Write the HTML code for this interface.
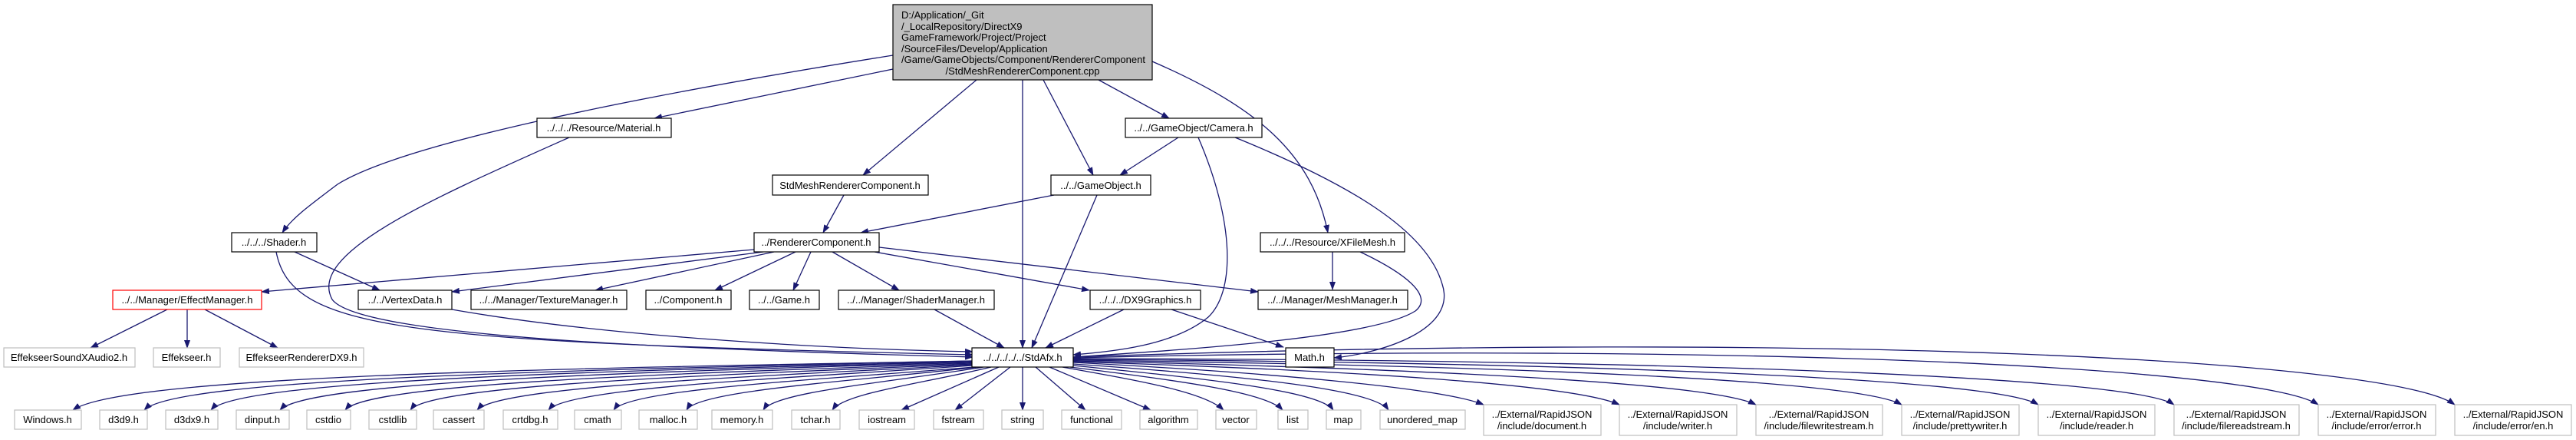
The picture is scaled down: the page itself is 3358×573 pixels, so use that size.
<!DOCTYPE html>
<html><head><meta charset="utf-8"><style>
html,body{margin:0;padding:0;background:#fff;}
svg{display:block;}
text{font-family:"Liberation Sans",Arial,sans-serif;font-size:13px;fill:#000;}
.b{fill:#fff;stroke:#000;stroke-width:1.2;}
.g{fill:#fff;stroke:#bfbfbf;stroke-width:1.2;}
.r{fill:#fff;stroke:#ff0000;stroke-width:1.2;}
.e{fill:none;stroke:#191970;stroke-width:1.3;marker-end:url(#a);}
</style></head><body>
<svg width="3358" height="573" viewBox="0 0 3358 573" xmlns="http://www.w3.org/2000/svg">
<defs><marker id="a" markerWidth="11" markerHeight="8" refX="10" refY="4" orient="auto" markerUnits="userSpaceOnUse"><path d="M0,0 L11,4 L0,8 z" fill="#191970"/></marker></defs>

<!-- edges from main -->
<path class="e" d="M1164,72 C800,130 520,190 440,240 C400,270 380,285 368,303"/>
<path class="e" d="M1164,90 L853,154"/>
<path class="e" d="M1273,104 L1125,228"/>
<path class="e" d="M1333,104 L1333,453"/>
<path class="e" d="M1360,104 L1425,228"/>
<path class="e" d="M1432,104 L1524,154"/>
<path class="e" d="M1502,80 C1640,140 1710,200 1731,303"/>
<!-- camera -->
<path class="e" d="M1536,179 L1460,228"/>
<path class="e" d="M1562,179 C1610,290 1610,380 1575,413 C1530,450 1450,458 1399,462"/>
<path class="e" d="M1610,179 C1760,240 1860,300 1880,370 C1900,430 1800,460 1739,466"/>
<!-- xfilemesh -->
<path class="e" d="M1737,328 L1737,377"/>
<path class="e" d="M1773,328 C1830,355 1870,385 1845,405 C1790,440 1550,455 1399,465"/>
<!-- gameobject -->
<path class="e" d="M1374,254 L1122,303"/>
<path class="e" d="M1430,254 L1345,453"/>
<!-- stdmesh -->
<path class="e" d="M1100,254 L1073,303"/>
<!-- shader -->
<path class="e" d="M384,328 L495,378"/>
<path class="e" d="M360,328 C380,430 520,445 1268,462"/>
<!-- material -->
<path class="e" d="M742,179 C560,260 400,330 433,390 C470,440 900,455 1268,465"/>
<!-- renderer component -->
<path class="e" d="M983,325 L341,380"/>
<path class="e" d="M995,328 L589,380"/>
<path class="e" d="M1009,328 L776,378"/>
<path class="e" d="M1037,328 L932,378"/>
<path class="e" d="M1057,328 L1034,378"/>
<path class="e" d="M1085,328 L1172,378"/>
<path class="e" d="M1140,328 L1420,378"/>
<path class="e" d="M1146,322 L1640,380"/>
<!-- row4 to stdafx -->
<path class="e" d="M1218,403 L1309,453"/>
<path class="e" d="M1465,403 L1363,453"/>
<path class="e" d="M1527,403 L1673,452"/>
<path class="e" d="M589,403 C800,440 1100,455 1268,458"/>
<!-- effect manager -->
<path class="e" d="M218,403 L118,453"/>
<path class="e" d="M244,403 L244,453"/>
<path class="e" d="M267,403 L362,453"/>

<!-- stdafx to leaves (left) -->
<path class="e" d="M1268,470 C700,480 160,490 95,534"/>
<path class="e" d="M1268,470 C750,482 230,492 188,534"/>
<path class="e" d="M1268,471 C800,483 310,494 275,534"/>
<path class="e" d="M1268,472 C850,484 400,496 365,534"/>
<path class="e" d="M1268,473 C900,486 480,498 450,534"/>
<path class="e" d="M1268,474 C950,488 560,500 535,534"/>
<path class="e" d="M1268,475 C1000,490 650,502 622,534"/>
<path class="e" d="M1268,476 C1040,492 740,504 715,534"/>
<path class="e" d="M1270,478 C1080,494 820,506 800,534"/>
<path class="e" d="M1275,478 C1120,496 910,508 895,534"/>
<path class="e" d="M1282,478 C1160,498 1010,510 995,534"/>
<path class="e" d="M1292,478 C1200,500 1100,512 1085,534"/>
<path class="e" d="M1302,478 L1175,534"/>
<path class="e" d="M1317,478 L1245,534"/>
<path class="e" d="M1333,478 L1333,534"/>
<path class="e" d="M1350,478 L1415,534"/>
<path class="e" d="M1368,478 L1500,534"/>
<!-- right -->
<path class="e" d="M1385,478 C1480,495 1570,510 1595,534"/>
<path class="e" d="M1395,478 C1530,495 1650,510 1672,534"/>
<path class="e" d="M1399,476 C1560,492 1720,508 1738,534"/>
<path class="e" d="M1399,474 C1600,488 1790,505 1810,534"/>
<path class="e" d="M1399,472 C1650,485 1880,505 1934,527"/>
<path class="e" d="M1399,471 C1750,482 2050,500 2111,527"/>
<path class="e" d="M1399,470 C1850,480 2230,498 2289,527"/>
<path class="e" d="M1399,469 C1950,476 2420,494 2479,527"/>
<path class="e" d="M1399,468 C2050,472 2600,492 2657,527"/>
<path class="e" d="M1399,467 C2150,468 2780,490 2834,527"/>
<path class="e" d="M1399,466 C2300,445 2950,480 3022,527"/>
<path class="e" d="M1399,465 C2400,430 3120,470 3200,527"/>

<!-- nodes -->
<rect x="1164" y="6" width="338" height="98" fill="#bfbfbf" stroke="#000" stroke-width="1.2"/>
<text x="1175" y="24">D:/Application/_Git</text>
<text x="1175" y="39">/_LocalRepository/DirectX9</text>
<text x="1175" y="53">GameFramework/Project/Project</text>
<text x="1175" y="68">/SourceFiles/Develop/Application</text>
<text x="1175" y="82">/Game/GameObjects/Component/RendererComponent</text>
<text x="1333" y="97" text-anchor="middle">/StdMeshRendererComponent.cpp</text>

<g text-anchor="middle">
<rect class="b" x="700" y="154" width="175" height="25"/><text x="787" y="171">../../../Resource/Material.h</text>
<rect class="b" x="1467" y="154" width="178" height="25"/><text x="1556" y="171">../../GameObject/Camera.h</text>
<rect class="b" x="1007" y="228" width="203" height="26"/><text x="1108" y="246">StdMeshRendererComponent.h</text>
<rect class="b" x="1370" y="228" width="130" height="26"/><text x="1435" y="246">../../GameObject.h</text>
<rect class="b" x="302" y="303" width="111" height="25"/><text x="357" y="320">../../../Shader.h</text>
<rect class="b" x="983" y="303" width="163" height="25"/><text x="1064" y="320">../RendererComponent.h</text>
<rect class="b" x="1643" y="303" width="188" height="25"/><text x="1737" y="320">../../../Resource/XFileMesh.h</text>

<rect class="r" x="147" y="378" width="194" height="25"/><text x="244" y="395">../../Manager/EffectManager.h</text>
<rect class="b" x="467" y="378" width="122" height="25"/><text x="528" y="395">../../VertexData.h</text>
<rect class="b" x="614" y="378" width="203" height="25"/><text x="715" y="395">../../Manager/TextureManager.h</text>
<rect class="b" x="842" y="378" width="111" height="25"/><text x="897" y="395">../Component.h</text>
<rect class="b" x="977" y="378" width="91" height="25"/><text x="1022" y="395">../../Game.h</text>
<rect class="b" x="1093" y="378" width="203" height="25"/><text x="1194" y="395">../../Manager/ShaderManager.h</text>
<rect class="b" x="1421" y="378" width="144" height="25"/><text x="1493" y="395">../../../DX9Graphics.h</text>
<rect class="b" x="1640" y="378" width="195" height="25"/><text x="1737" y="395">../../Manager/MeshManager.h</text>

<rect class="g" x="5" y="453" width="171" height="25"/><text x="90" y="470">EffekseerSoundXAudio2.h</text>
<rect class="g" x="200" y="453" width="87" height="25"/><text x="243" y="470">Effekseer.h</text>
<rect class="g" x="312" y="453" width="162" height="25"/><text x="393" y="470">EffekseerRendererDX9.h</text>
<rect class="b" x="1267" y="453" width="132" height="25"/><text x="1333" y="470">../../../../../StdAfx.h</text>
<rect class="b" x="1676" y="453" width="63" height="25"/><text x="1707" y="470">Math.h</text>

<rect class="g" x="19" y="534" width="87" height="25"/><text x="62" y="551">Windows.h</text>
<rect class="g" x="130" y="534" width="62" height="25"/><text x="161" y="551">d3d9.h</text>
<rect class="g" x="216" y="534" width="68" height="25"/><text x="250" y="551">d3dx9.h</text>
<rect class="g" x="308" y="534" width="69" height="25"/><text x="342" y="551">dinput.h</text>
<rect class="g" x="400" y="534" width="57" height="25"/><text x="428" y="551">cstdio</text>
<rect class="g" x="481" y="534" width="62" height="25"/><text x="512" y="551">cstdlib</text>
<rect class="g" x="565" y="534" width="66" height="25"/><text x="598" y="551">cassert</text>
<rect class="g" x="656" y="534" width="71" height="25"/><text x="691" y="551">crtdbg.h</text>
<rect class="g" x="749" y="534" width="61" height="25"/><text x="779" y="551">cmath</text>
<rect class="g" x="833" y="534" width="76" height="25"/><text x="871" y="551">malloc.h</text>
<rect class="g" x="928" y="534" width="79" height="25"/><text x="967" y="551">memory.h</text>
<rect class="g" x="1032" y="534" width="63" height="25"/><text x="1063" y="551">tchar.h</text>
<rect class="g" x="1120" y="534" width="72" height="25"/><text x="1156" y="551">iostream</text>
<rect class="g" x="1217" y="534" width="65" height="25"/><text x="1249" y="551">fstream</text>
<rect class="g" x="1306" y="534" width="54" height="25"/><text x="1333" y="551">string</text>
<rect class="g" x="1384" y="534" width="78" height="25"/><text x="1423" y="551">functional</text>
<rect class="g" x="1486" y="534" width="75" height="25"/><text x="1523" y="551">algorithm</text>
<rect class="g" x="1585" y="534" width="53" height="25"/><text x="1611" y="551">vector</text>
<rect class="g" x="1666" y="534" width="39" height="25"/><text x="1685" y="551">list</text>
<rect class="g" x="1729" y="534" width="45" height="25"/><text x="1751" y="551">map</text>
<rect class="g" x="1799" y="534" width="111" height="25"/><text x="1854" y="551">unordered_map</text>

<rect class="g" x="1934" y="527" width="153" height="40"/><text x="2010" y="544">../External/RapidJSON</text><text x="2010" y="559">/include/document.h</text>
<rect class="g" x="2111" y="527" width="153" height="40"/><text x="2187" y="544">../External/RapidJSON</text><text x="2187" y="559">/include/writer.h</text>
<rect class="g" x="2289" y="527" width="165" height="40"/><text x="2371" y="544">../External/RapidJSON</text><text x="2371" y="559">/include/filewritestream.h</text>
<rect class="g" x="2479" y="527" width="153" height="40"/><text x="2555" y="544">../External/RapidJSON</text><text x="2555" y="559">/include/prettywriter.h</text>
<rect class="g" x="2657" y="527" width="152" height="40"/><text x="2733" y="544">../External/RapidJSON</text><text x="2733" y="559">/include/reader.h</text>
<rect class="g" x="2834" y="527" width="163" height="40"/><text x="2915" y="544">../External/RapidJSON</text><text x="2915" y="559">/include/filereadstream.h</text>
<rect class="g" x="3022" y="527" width="153" height="40"/><text x="3098" y="544">../External/RapidJSON</text><text x="3098" y="559">/include/error/error.h</text>
<rect class="g" x="3200" y="527" width="152" height="40"/><text x="3276" y="544">../External/RapidJSON</text><text x="3276" y="559">/include/error/en.h</text>
</g>
</svg>
</body></html>
